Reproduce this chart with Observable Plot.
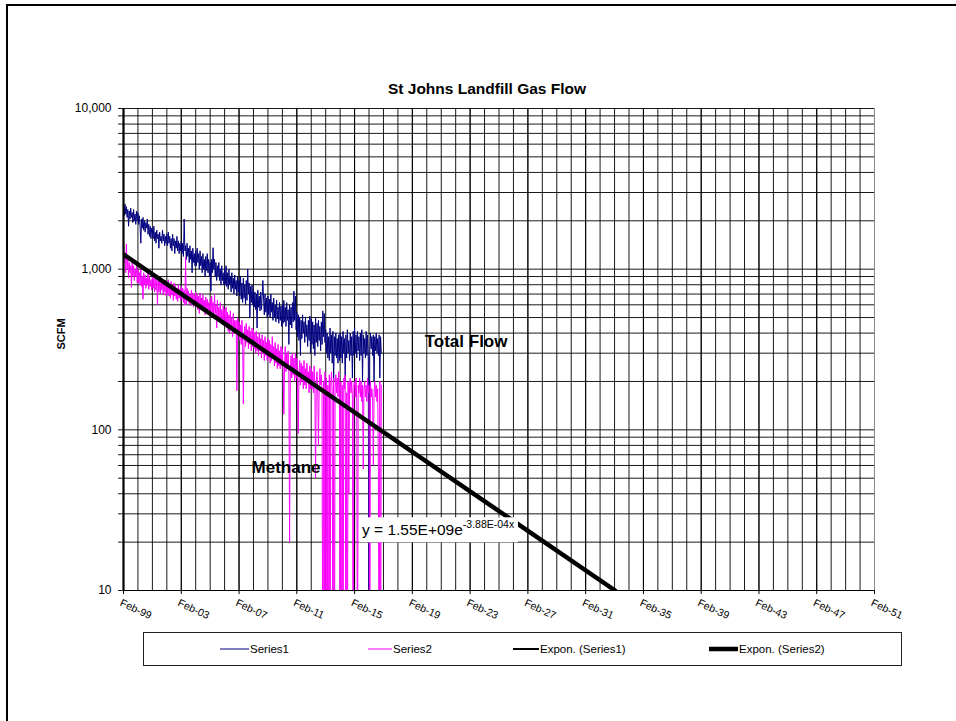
<!DOCTYPE html>
<html><head><meta charset="utf-8">
<script src="https://cdn.jsdelivr.net/npm/d3@7"></script>
<script src="https://cdn.jsdelivr.net/npm/@observablehq/plot@0.6"></script>
<style>
body{margin:0;background:#fff;}
#chart svg{display:block;}
</style>
</head><body><div id="chart"></div>
<script>
const chartTitle = "St Johns Landfill Gas Flow";
const yAxisTitle = "SCFM";
const firstYear = 1999;
const samplesPerYear = 20;

// Series1 (total flow), one row per year starting Feb of that year
const series1 = [
  [2400,2150,2550,2200,2450,2100,2350,1850,2300,2050,2400,2100,2250,1950,2350,2000,2200,1900,2300,2000],
  [2250,1900,2150,1850,1450,2050,1800,2100,1750,2000,1700,1950,1800,2050,1650,1900,1600,1850,1550,1800],
  [1750,1550,1850,1500,1700,1450,1750,1550,1650,1350,1700,1500,1600,1450,1750,1500,1650,1400,1600,1450],
  [1650,1400,1700,1450,1600,1350,1550,1300,1650,1400,1550,1250,1500,1350,1600,1300,1500,1250,1450,1300],
  [1500,1250,1450,1200,2050,1300,1400,1150,1450,1200,1350,1100,1400,1150,1300,950,1350,1100,1250,1050],
  [1300,1050,1350,1100,1250,1000,1300,1050,1200,950,1250,1000,1150,900,1200,980,1250,950,1150,900],
  [1100,730,1150,950,1360,1000,1150,900,1100,850,1050,900,1100,850,1000,800,1050,850,950,800],
  [1000,800,1050,780,950,750,1000,800,900,720,950,760,880,700,920,750,850,680,900,720],
  [850,680,900,650,820,620,880,660,800,600,850,640,1000,700,820,500,780,620,800,600],
  [750,580,720,560,700,430,740,580,680,550,720,560,680,850,650,520,700,540,660,500],
  [680,520,650,500,700,540,620,480,660,500,600,470,640,490,580,460,620,480,590,440],
  [600,460,640,470,580,440,620,480,560,340,600,450,580,430,620,470,730,480,680,420],
  [540,380,520,360,500,290,480,370,520,400,470,350,500,380,450,330,480,360,510,300],
  [490,340,470,320,450,290,500,350,460,330,480,360,440,310,470,340,550,380,530,350],
  [420,300,400,280,380,270,430,300,390,260,410,200,380,290,400,280,370,260,390,270],
  [400,280,380,260,410,300,370,200,390,280,420,300,360,270,400,290,380,210,410,290],
  [430,300,390,280,410,310,380,270,400,290,420,200,390,300,370,280,410,290,390,270],
  [1,300,400,320,380,290,390,200,380,310,400,300,370,290,390,210,380,300]
];

// Series2 (methane), one row per year starting Feb of that year
const series2 = [
  [1500,1100,1200,950,1430,1000,1150,880,1100,950,1050,770,1100,900,1050,850,1000,900,1050,820],
  [1000,820,950,800,1000,780,900,650,950,800,920,760,880,800,950,750,900,780,860,740],
  [900,760,880,720,930,740,850,600,880,720,860,700,830,740,870,690,820,720,850,680],
  [830,700,860,680,800,660,840,690,780,640,820,680,790,650,760,630,800,660,750,640],
  [780,650,760,620,740,600,1180,600,760,640,730,610,700,590,740,620,710,580,690,600],
  [720,590,700,560,680,530,710,580,660,550,690,570,640,520,670,560,650,540,620,510],
  [650,520,680,540,620,500,700,530,600,430,640,500,580,480,620,470,560,450,590,460],
  [560,440,580,430,540,410,520,400,550,420,500,380,530,400,480,420,480,175,500,390],
  [470,360,450,340,480,350,145,370,440,330,460,350,420,320,440,340,410,310,430,330],
  [420,320,400,300,410,310,380,290,400,310,370,280,390,300,360,270,380,290,350,270],
  [370,280,360,260,340,270,380,280,330,250,350,260,320,240,340,250,310,240,330,250],
  [320,240,125,250,330,230,300,240,310,220,20,230,290,210,300,220,280,200,300,210],
  [280,200,95,210,270,190,260,200,250,180,270,190,240,180,260,200,230,170,250,180],
  [240,180,230,170,250,190,50,200,230,170,80,180,240,190,220,170,1,200,1,230],
  [1,210,1,190,1,220,1,200,230,170,1,210,1,180,220,170,210,160,230,180],
  [1,200,1,190,1,210,180,220,1,170,1,200,40,190,210,170,200,160,1,190],
  [200,160,210,150,1,190,170,210,160,200,150,190,57,180,200,160,190,150,210,170],
  [190,1,200,160,180,150,60,170,200,160,190,150,180,55,1,200,1,190]
];

// Exponential trendline of Series2 (end points)
const trendDates = ["1999-02-01", "2033-02-15"];
const trendValues = [1235, 10];
const equationMain = "y = 1.55E+09e";
const equationExp = "-3.88E-04x";

const yLabelTicks = [10, 100, 1000, 10000];
const xLabelYears = [1999,2003,2007,2011,2015,2019,2023,2027,2031,2035,2039,2043,2047,2051];
const legendLabels = ["Series1", "Series2", "Expon. (Series1)", "Expon. (Series2)"];

const annotations = [
  {text: "Total Flow", date: "2019-12-10", value: 352},
  {text: "Methane", date: "2007-12-15", value: 58}
];

// ---- build tables
const DAY = 864e5;
function toRows(rows) {
  const out = [];
  rows.forEach((row, r) => {
    const base = Date.UTC(firstYear + r, 1, 1);
    row.forEach((v, k) => out.push({date: new Date(base + k * (365.25 / samplesPerYear) * DAY), value: v}));
  });
  return out;
}
const s1 = toRows(series1);
const s2 = toRows(series2);
const trend = trendDates.map((d, i) => ({date: new Date(d), value: trendValues[i]}));
const yearDates = d3.range(1999, 2052).map(y => new Date(Date.UTC(y, 1, 1)));
const xLabelDates = xLabelYears.map(y => new Date(Date.UTC(y, 1, 1)));
const minorY = [];
for (const dec of [10, 100, 1000]) for (let m = 1; m <= 9; m++) minorY.push(dec * m);
minorY.push(10000);
const ann = annotations.map(a => ({...a, date: new Date(a.date)}));

const FONT = "Arial, 'Liberation Sans', Helvetica, sans-serif";
const W = 956, H = 721;
const fmtX = d3.utcFormat("%b-%y");

const plot = Plot.plot({
  width: W, height: H,
  marginLeft: 123, marginRight: 82, marginTop: 108, marginBottom: 131,
  x: {type: "utc", domain: [new Date(Date.UTC(1999,1,1)), new Date(Date.UTC(2051,1,1))], axis: null},
  y: {type: "log", domain: [10, 10000], axis: null},
  style: {fontFamily: FONT, background: "white", overflow: "visible"},
  marks: [
    Plot.ruleY(minorY, {stroke: "#000", strokeOpacity: 0.9, strokeWidth: 1, insetLeft: -5}),
    Plot.ruleX(yearDates, {stroke: "#000", strokeOpacity: 0.9, strokeWidth: 1}),
    Plot.ruleX(xLabelDates, {stroke: "#000", strokeWidth: 1, insetBottom: -4}),
    Plot.line(s1, {x: "date", y: "value", stroke: "#000080", strokeWidth: 1, clip: true}),
    Plot.line(s2, {x: "date", y: "value", stroke: "#FF00FF", strokeWidth: 1, clip: true}),
    Plot.line(trend, {x: "date", y: "value", stroke: "#000", strokeWidth: 4.5, clip: true}),
    Plot.ruleX([new Date(Date.UTC(2051,1,1))], {stroke: "#888", strokeWidth: 1}),
    Plot.ruleX([new Date(Date.UTC(1999,1,1))], {stroke: "#000", strokeWidth: 2.2}),
    Plot.ruleY([10], {stroke: "#000", strokeWidth: 1.2}),
    Plot.text(yLabelTicks, {y: d => d, frameAnchor: "left", dx: -12, textAnchor: "end", text: d => d3.format(",")(d), fontSize: 12, fill: "#000"}),
    Plot.text(xLabelDates, {x: d => d, frameAnchor: "bottom", dy: 8, dx: -1, rotate: 25, textAnchor: "start", lineAnchor: "top", text: d => fmtX(d), fontSize: 10.5, fill: "#000"}),
    Plot.text([yAxisTitle], {frameAnchor: "left", dx: -62, rotate: -90, text: d => d, fontSize: 11, fontWeight: "bold", fill: "#000"}),
    Plot.text([chartTitle], {frameAnchor: "top", dx: -12, dy: -26, text: d => d, fontSize: 15.5, fontWeight: "bold", fill: "#000"}),
    Plot.text(ann, {x: "date", y: "value", text: "text", textAnchor: "start", fontSize: 17, fontWeight: "bold", fill: "#000"})
  ]
});

document.getElementById("chart").appendChild(plot);
const svg = d3.select(plot);
const xs = plot.scale("x"), ys = plot.scale("y");

// Equation label with white box
{
  const px = xs.apply(new Date("2015-08-20"));
  const py = ys.apply(21.9);
  const g = svg.append("g").attr("font-family", FONT).attr("text-anchor", "start");
  const rect = g.append("rect").attr("fill", "white");
  const t = g.append("text").attr("x", px).attr("y", py).attr("fill", "#000").attr("font-size", 15.5).attr("text-anchor", "start");
  t.append("tspan").text(equationMain);
  t.append("tspan").attr("dy", -7).attr("font-size", 10.5).text(equationExp);
  const bb = t.node().getBBox();
  rect.attr("x", bb.x - 3).attr("y", bb.y - 1).attr("width", bb.width + 6).attr("height", bb.height + 5);
}

// Legend
{
  const g = svg.append("g").attr("font-family", FONT).attr("text-anchor", "start");
  g.append("rect").attr("x", 143.5).attr("y", 632.5).attr("width", 758).attr("height", 33)
    .attr("fill", "white").attr("stroke", "#222").attr("stroke-width", 1);
  const items = [
    {x0: 220, x1: 249, color: "#000080", w: 1},
    {x0: 368, x1: 392, color: "#FF00FF", w: 1},
    {x0: 513, x1: 539, color: "#000", w: 2},
    {x0: 709, x1: 738, color: "#000", w: 4.5}
  ];
  items.forEach((it, i) => {
    g.append("line").attr("x1", it.x0).attr("x2", it.x1).attr("y1", 649).attr("y2", 649)
      .attr("stroke", it.color).attr("stroke-width", it.w);
    g.append("text").attr("x", it.x1 + 1).attr("y", 649).attr("dy", "0.35em")
      .attr("font-size", 11.5).attr("fill", "#000").attr("text-anchor", "start").text(legendLabels[i]);
  });
}

// Outer border
svg.append("rect").attr("x", 7).attr("y", 5).attr("width", 970).attr("height", 740)
  .attr("fill", "none").attr("stroke", "#000").attr("stroke-width", 2);
</script>
</body></html>
